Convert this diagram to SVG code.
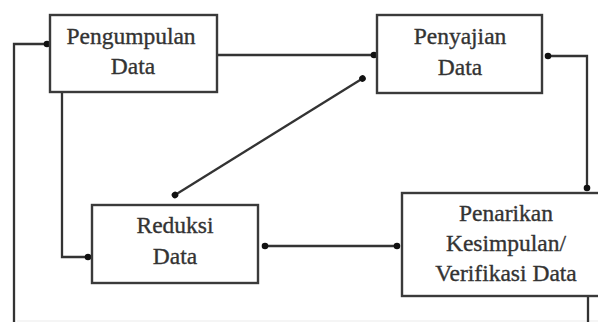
<svg xmlns="http://www.w3.org/2000/svg" width="598" height="322" viewBox="0 0 598 322">
<style>
.box{fill:#fff;stroke:#3a3a3a;stroke-width:2.4}
.lbl{font-family:"Liberation Serif","Times New Roman",serif;font-size:23.5px;fill:#333;stroke:#333;stroke-width:0.35;text-anchor:middle}
.con{fill:none;stroke:#333;stroke-width:2.3}
.faint{stroke:#ececec;stroke-width:1.2}
</style>
<defs>
<marker id="dot" viewBox="0 0 8 8" refX="4" refY="4" markerWidth="8" markerHeight="8" markerUnits="userSpaceOnUse" orient="auto">
<circle cx="4" cy="4" r="3.3" fill="#111"/>
</marker>
</defs>
<rect width="598" height="322" fill="#fff"/>
<line class="faint" x1="17" y1="321" x2="598" y2="321"/>
<g id="connectors">
<path class="con" d="M14,322 V44 H47" marker-end="url(#dot)"/>
<path class="con" d="M217,55 H374" marker-end="url(#dot)"/>
<path class="con" d="M548,56 H587 V188" marker-start="url(#dot)" marker-end="url(#dot)"/>
<path class="con" d="M62,92 V257 H88" marker-end="url(#dot)"/>
<path class="con" d="M362.5,78.5 L175,195" marker-start="url(#dot)" marker-end="url(#dot)"/>
<path class="con" d="M265,246 H397" marker-start="url(#dot)" marker-end="url(#dot)"/>
<path class="con" d="M588,296 V322"/>
</g>
<g id="pengumpulan">
<rect class="box" x="50" y="15" width="167" height="77"/>
<text class="lbl" x="131" y="44">Pengumpulan</text>
<text class="lbl" x="133" y="74">Data</text>
</g>
<g id="penyajian">
<rect class="box" x="377" y="15" width="165" height="78"/>
<text class="lbl" x="460" y="44">Penyajian</text>
<text class="lbl" x="460" y="75">Data</text>
</g>
<g id="reduksi">
<rect class="box" x="92" y="205" width="166" height="78"/>
<text class="lbl" x="175" y="233">Reduksi</text>
<text class="lbl" x="175" y="264">Data</text>
</g>
<g id="penarikan">
<rect class="box" x="402" y="193" width="200" height="103"/>
<text class="lbl" x="506" y="221">Penarikan</text>
<text class="lbl" x="506" y="251">Kesimpulan/</text>
<text class="lbl" x="506" y="281">Verifikasi Data</text>
</g>
</svg>
